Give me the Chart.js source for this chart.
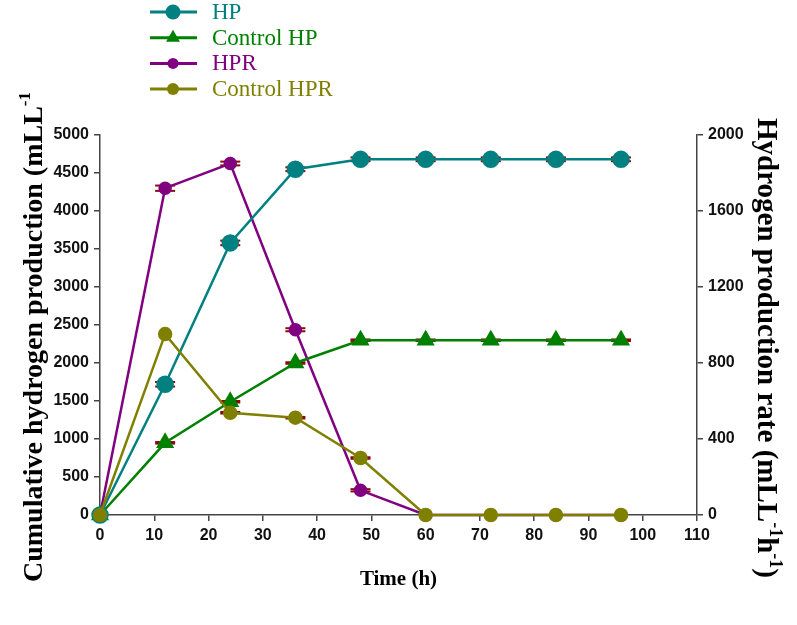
<!DOCTYPE html>
<html>
<head>
<meta charset="utf-8">
<script src="https://cdn.jsdelivr.net/npm/chart.js@4/dist/chart.umd.min.js"></script>
<style>
  body { margin: 0; background: #fff; }
  #wrap { width: 797px; height: 625px; }
</style>
</head>
<body>
<div id="wrap"><canvas id="chart" width="797" height="625"></canvas></div>
<script>
// sampling times (h)
const hours = [0, 12, 24, 36, 48, 60, 72, 84, 96];

// cumulative production, left axis (mL/L)
const hp = [0, 1720, 3580, 4550, 4680, 4680, 4680, 4680, 4680];
const hpErr = [0, 30, 30, 25, 25, 25, 25, 25, 25];
const ctrlHp = [0, 950, 1490, 2000, 2300, 2300, 2300, 2300, 2300];
const ctrlHpErr = [0, 10, 10, 10, 10, 10, 10, 10, 10];

// production rate, right axis (mL/L/h)
const hpr = [0, 1720, 1850, 975, 130, 0, 0, 0, 0];
const hprErr = [0, 14, 10, 8, 6, 0, 0, 0, 0];
const ctrlHpr = [0, 952, 538, 512, 300, 0, 0, 0, 0];
const ctrlHprErr = [0, 0, 4, 4, 4, 0, 0, 0, 0];

const serif = '"Liberation Serif", "Times New Roman", serif';
const sans = '"Liberation Sans", Arial, sans-serif';

function pts(vals) {
  return hours.map((h, i) => ({ x: h, y: vals[i] }));
}

let series = [
  { label: 'HP', data: hp, err: hpErr, color: '#008080', style: 'circle', r: 7.5, axis: 'y', order: 1 },
  { label: 'Control HP', data: ctrlHp, err: ctrlHpErr, color: '#008000', style: 'triangle', r: 8, axis: 'y', order: 2 },
  { label: 'HPR', data: hpr, err: hprErr, color: '#800080', style: 'circle', r: 5.5, axis: 'y1', order: 3 },
  { label: 'Control HPR', data: ctrlHpr, err: ctrlHprErr, color: '#808000', style: 'circle', r: 6, axis: 'y1', order: 0 }
];

// small error caps, dark red, drawn under the markers
const errorBars = {
  id: 'errorBars',
  beforeDatasetsDraw(chart) {
    const ctx = chart.ctx;
    const xs = chart.scales.x;
    ctx.save();
    ctx.strokeStyle = '#8b0a0a';
    ctx.lineWidth = 2;
    series.forEach((s) => {
      const ys = chart.scales[s.axis];
      s.err.forEach((e, i) => {
        if (!e) return;
        const x = xs.getPixelForValue(hours[i]);
        [s.data[i] + e, s.data[i] - e].forEach((v) => {
          const y = ys.getPixelForValue(v);
          ctx.beginPath();
          ctx.moveTo(x - 10, y);
          ctx.lineTo(x + 10, y);
          ctx.stroke();
        });
      });
    });
    ctx.restore();
  }
};

// legend stacked in the top-left corner, line + marker + coloured text
const sideLegend = {
  id: 'sideLegend',
  afterDraw(chart) {
    const ctx = chart.ctx;
    ctx.save();
    series.forEach((s, i) => {
      const y = 12 + i * 25.7;
      ctx.strokeStyle = s.color;
      ctx.lineWidth = 3;
      ctx.beginPath();
      ctx.moveTo(150, y);
      ctx.lineTo(197, y);
      ctx.stroke();
      ctx.fillStyle = s.color;
      Chart.helpers.drawPoint(ctx, { pointStyle: s.style, radius: s.r, rotation: 0, borderWidth: 0 }, 173, y);
      ctx.font = '23px ' + serif;
      ctx.textBaseline = 'middle';
      ctx.fillText(s.label, 212, y + 1);
    });
    ctx.restore();
  }
};

// rotated axis titles with real superscripts
function drawRich(ctx, parts, size) {
  let x = 0;
  parts.forEach((p) => {
    ctx.font = 'bold ' + (p.sup ? Math.round(size * 0.62) : size) + 'px ' + serif;
    ctx.fillText(p.t, x, p.sup ? -size * 0.33 : 0);
    x += ctx.measureText(p.t).width;
  });
}

const axisTitles = {
  id: 'axisTitles',
  afterDraw(chart) {
    const ctx = chart.ctx;
    ctx.save();
    ctx.fillStyle = '#000';
    ctx.textBaseline = 'middle';
    ctx.translate(35, 582);
    ctx.rotate(-Math.PI / 2);
    drawRich(ctx, [{ t: 'Cumulative hydrogen production (mLL' }, { t: '-1', sup: true }], 28);
    ctx.restore();

    ctx.save();
    ctx.fillStyle = '#000';
    ctx.textBaseline = 'middle';
    ctx.translate(765, 118);
    ctx.rotate(Math.PI / 2);
    drawRich(ctx, [{ t: 'Hydrogen production rate (mLL' }, { t: '-1', sup: true }, { t: 'h' }, { t: '-1', sup: true }, { t: ')' }], 29);
    ctx.restore();
  }
};

const tickFont = { family: sans, size: 16, weight: 'bold' };

function axisOpts(extra) {
  return Object.assign({
    grid: { drawOnChartArea: false, drawTicks: true, tickLength: 6, color: '#444', lineWidth: 1.5 },
    border: { color: '#444', width: 1.5 }
  }, extra);
}

new Chart(document.getElementById('chart'), {
  type: 'line',
  data: {
    datasets: series.map((s) => ({
      label: s.label,
      data: pts(s.data),
      yAxisID: s.axis,
      borderColor: s.color,
      backgroundColor: s.color,
      pointBackgroundColor: s.color,
      pointBorderColor: s.color,
      pointStyle: s.style,
      pointRadius: s.r,
      borderWidth: 2.5,
      order: s.order,
      clip: false
    }))
  },
  options: {
    responsive: false,
    animation: false,
    layout: { padding: { top: 135, bottom: 33 } },
    plugins: { legend: { display: false }, tooltip: { enabled: false } },
    scales: {
      x: axisOpts({
        type: 'linear', min: 0, max: 110,
        ticks: { stepSize: 10, color: '#111', font: tickFont, padding: 5, callback: (v) => String(v) },
        title: { display: true, text: 'Time (h)', color: '#000', font: { family: serif, size: 21, weight: 'bold' }, padding: 0 },
        afterFit: (sc) => { sc.height = 77; }
      }),
      y: axisOpts({
        position: 'left', min: 0, max: 5000,
        ticks: { stepSize: 500, color: '#111', font: tickFont, padding: 5, callback: (v) => String(v) },
        afterFit: (sc) => { sc.width = 100; }
      }),
      y1: axisOpts({
        position: 'right', min: 0, max: 2000,
        ticks: { stepSize: 400, color: '#111', font: tickFont, padding: 5, callback: (v) => String(v) },
        afterFit: (sc) => { sc.width = 100; }
      })
    }
  },
  plugins: [errorBars, sideLegend, axisTitles]
});
</script>
</body>
</html>
